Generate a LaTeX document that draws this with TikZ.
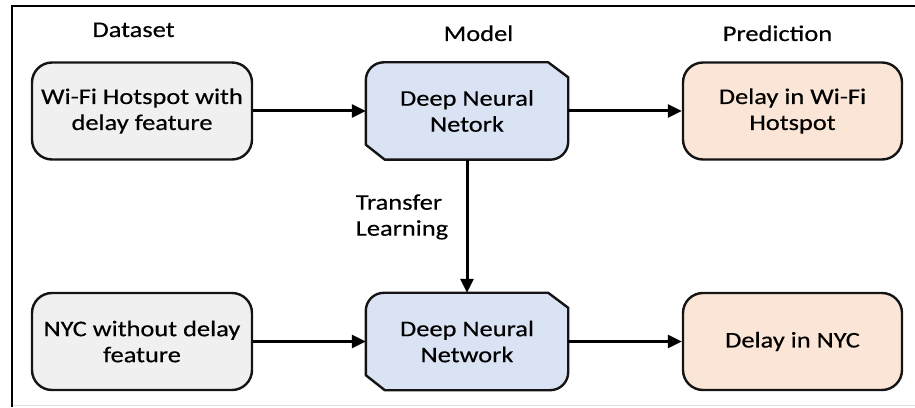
\documentclass[tikz,border=0pt]{standalone}
\usepackage{fontspec}
\setmainfont{Carlito}[FakeStretch=1.18, FakeBold=0.4]
\usetikzlibrary{arrows.meta,backgrounds,calc}

\definecolor{dataFill}{RGB}{240,240,240}
\definecolor{modelFill}{RGB}{218,227,243}
\definecolor{predFill}{RGB}{251,229,214}
\definecolor{inkLine}{RGB}{20,20,20}

\tikzset{
  every node/.style={font=\fontsize{22.4}{26}\selectfont, text=black},
  roundbox/.style={draw=inkLine, line width=2.4pt, rounded corners=20pt,
                   minimum width=#1, minimum height=97pt, align=center, inner sep=0pt},
  databox/.style={roundbox=220pt, fill=dataFill},
  predbox/.style={roundbox=219pt, fill=predFill},
  modelbox/.style={minimum width=202pt, minimum height=97pt, align=center, inner sep=0pt},
  flow/.style={line width=3pt, draw=black, -{Triangle[length=14pt,width=13pt]}},
  heading/.style={anchor=base},
}

% outline of a model box: two snipped corners (NE, SW), two rounded (NW, SE)
\newcommand\snipoutline[1]{%
  \begin{scope}[on background layer]
    \path let \p1=(#1.north west), \p2=(#1.south east) in
      [draw=inkLine, line width=2.4pt, fill=modelFill, line join=round]
      (\x1,\y1-18pt) arc[start angle=180, end angle=90, radius=18pt]
      -- (\x2-20pt,\y1) -- (\x2,\y1-15pt)
      -- (\x2,\y2+18pt) arc[start angle=0, end angle=-90, radius=18pt]
      -- (\x1+19pt,\y2) -- (\x1,\y2+15pt) -- cycle;
  \end{scope}}

\begin{document}
\begin{tikzpicture}[x=1pt, y=1pt]
  \useasboundingbox (0,0) rectangle (915,407);

  % frame
  \coordinate (frTL) at (12,401);
  \coordinate (frTR) at (915,401);
  \coordinate (frBL) at (12,0);
  \draw[line width=2.2pt, black] (frTR) -- (frTL) -- (frBL);
  \draw[line width=1pt, black!12] (13,1.5) -- (915,1.5);

  % column headings
  \node[heading] (hData)  at (133.5,370) {Dataset};
  \node[heading] (hModel) at (478.5,366) {Model};
  \node[heading] (hPred)  at (777.5,366) {Prediction};

  % upper row
  \node[databox] (wifi) at (142,296) {Wi-Fi Hotspot with\\delay feature};
  \node[modelbox] (dnnA) at (467,296) {Deep Neural\\Netork};
  \snipoutline{dnnA}
  \node[predbox] (predA) at (792.5,296) {Delay in Wi-Fi\\Hotspot};

  % lower row
  \node[databox] (nyc) at (142,65.5) {NYC without delay\\feature};
  \node[modelbox] (dnnB) at (467,65.5) {Deep Neural\\Network};
  \snipoutline{dnnB}
  \node[predbox] (predB) at (792.5,65.5) {Delay in NYC};

  % connectors
  \draw[flow] (wifi) -- (dnnA);
  \draw[flow] (dnnA) -- (predA);
  \draw[flow] (nyc) -- (dnnB);
  \draw[flow] (dnnB) -- (predB);
  \draw[flow] (dnnA) -- node[left=14pt, align=left, pos=0.43] (tl) {Transfer\\Learning} (dnnB);
\end{tikzpicture}
\end{document}
